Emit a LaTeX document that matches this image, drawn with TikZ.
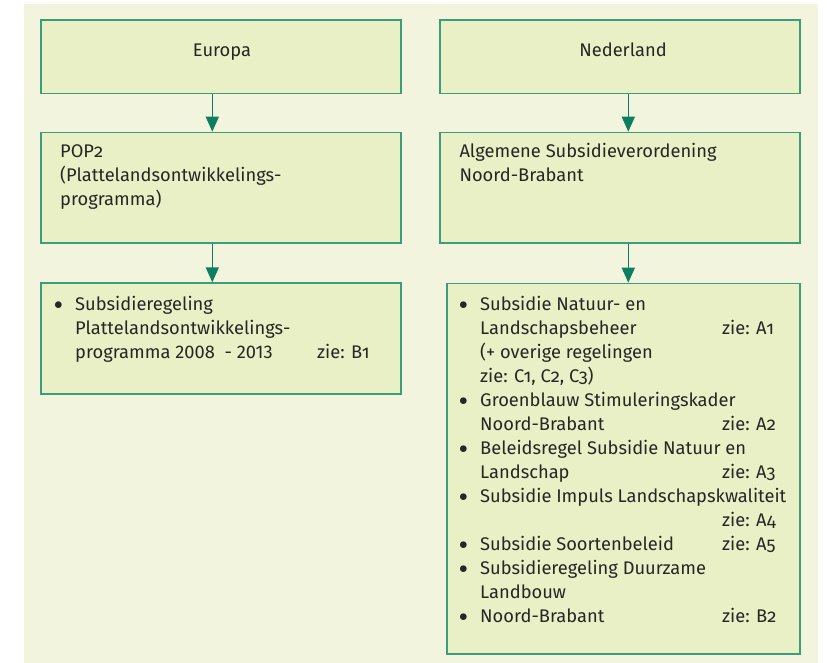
\documentclass[tikz,border=0pt]{standalone}
\usepackage{fontspec}
\setmainfont{Fira Sans}[Numbers=Lining]
\newfontfamily\osf{Fira Sans}[Numbers=OldStyle]
\usetikzlibrary{arrows.meta}
\definecolor{bgc}{HTML}{F2F4DE}
\definecolor{boxfill}{HTML}{EAF0C6}
\definecolor{boxline}{HTML}{3C9C7C}
\definecolor{arrc}{HTML}{0B7F5F}
\newcommand{\zz}[1]{{\osf zie: #1}}
\newcommand{\cl}[1]{\makebox[242pt][l]{#1}}
\newcommand{\bul}{\raisebox{0.5pt}{$\bullet$}}
\begin{document}
\begin{tikzpicture}[x=1pt,y=-1pt,
  panel/.style={draw=boxline,line width=1.7pt,fill=boxfill},
  txt/.style={inner sep=0pt,font=\fontsize{18.3}{24}\selectfont,text=black!85},
  arr/.style={draw=arrc,line width=1.4pt,-{Triangle[length=15pt,width=13pt]}},
  every node/.style={inner sep=0pt}]
\useasboundingbox (0,0) rectangle (827,663);
\fill[bgc] (24,4) rectangle (818,663);
% boxes
\node[panel,minimum width=360pt,minimum height=73.4pt,anchor=north west] (eu) at (40,19.3) {};
\node[panel,minimum width=360pt,minimum height=110.6pt,anchor=north west] (pop) at (40,131.7) {};
\node[panel,minimum width=360pt,minimum height=111pt,anchor=north west] (b1) at (40,282.3) {};
\node[panel,minimum width=360pt,minimum height=73.4pt,anchor=north west] (nl) at (439.3,19.3) {};
\node[panel,minimum width=360pt,minimum height=110.6pt,anchor=north west] (asv) at (439.3,131.7) {};
\node[panel,minimum width=353.3pt,minimum height=370.6pt,anchor=north west] (reg) at (446,282.7) {};
% arrows
\coordinate (axL) at (212.3,0);
\coordinate (axR) at (628.3,0);
\draw[arr] (eu.south -| axL) -- (pop.north -| axL);
\draw[arr] (pop.south -| axL) -- (b1.north -| axL);
\draw[arr] (nl.south -| axR) -- (asv.north -| axR);
\draw[arr] (asv.south -| axR) -- (reg.north -| axR);
% texts
\node[txt,anchor=base] (teu) at (222,57) {Europa};
\node[txt,anchor=base] (tnl) at (623,57) {Nederland};
\node[txt,anchor=base west] (tpop) at (60,158) {%
\begin{tabular}[t]{@{}l@{}}
POP{\osf 2}\\(Plattelandsontwikkelings-\\programma)
\end{tabular}};
\node[txt,anchor=base west] (tasv) at (459.3,158) {%
\begin{tabular}[t]{@{}l@{}}
Algemene Subsidieverordening\\Noord-Brabant
\end{tabular}};
\node[txt,anchor=base west] (tb1) at (54,310) {%
\begin{tabular}[t]{@{}p{21pt}@{}l@{}}
\bul & Subsidieregeling\\
 & Plattelandsontwikkelings-\\
 & \cl{programma 2008 \ - 2013}\zz{B1}
\end{tabular}};
\node[txt,anchor=base west] (treg) at (459,310) {%
\begin{tabular}[t]{@{}p{21pt}@{}l@{}}
\bul & Subsidie Natuur- en\\
 & \cl{Landschapsbeheer}\zz{A1}\\
 & (+ overige regelingen\\
 & {\osf zie: C1, C2, C3)}\\
\bul & Groenblauw Stimuleringskader\\
 & \cl{Noord-Brabant}\zz{A2}\\
\bul & Beleidsregel Subsidie Natuur en\\
 & \cl{Landschap}\zz{A3}\\
\bul & Subsidie Impuls Landschapskwaliteit\\
 & \cl{}\zz{A4}\\
\bul & \cl{Subsidie Soortenbeleid}\zz{A5}\\
\bul & Subsidieregeling Duurzame\\
 & Landbouw\\
\bul & \cl{Noord-Brabant}\zz{B2}
\end{tabular}};
\end{tikzpicture}
\end{document}
